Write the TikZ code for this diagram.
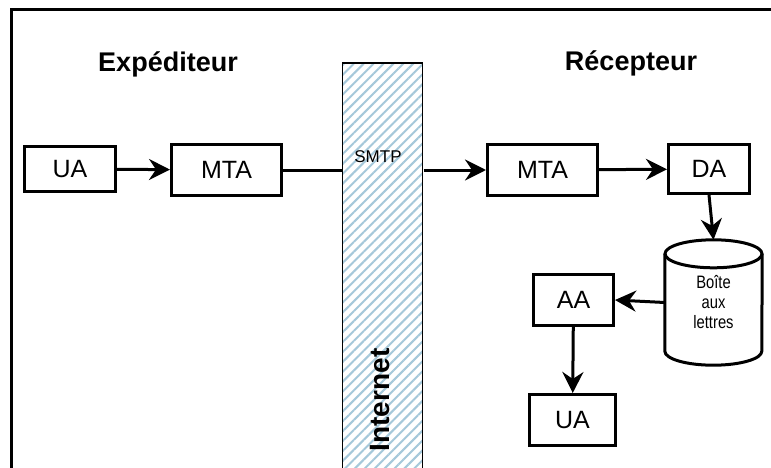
\documentclass[tikz,border=0pt]{standalone}
\usepackage{fontspec}
\setmainfont{Liberation Sans}
\newfontfamily\narrowfont[FakeStretch=0.82]{Liberation Sans}
\usetikzlibrary{arrows.meta,patterns.meta}
\definecolor{hatch}{RGB}{165,200,218}
\tikzset{
  centered/.style = { align=center, anchor=center },
     agent/.style = { draw, line width=3pt, font=\fontsize{25}{27}\selectfont,
                      centered, inner sep=0pt },
     title/.style = { font=\bfseries\fontsize{27}{30}\selectfont, anchor=base },
     arrow/.style = { line width=3pt, -{Stealth[length=21pt,width=21pt,inset=7pt]} },
      link/.style = { line width=3pt },
}
\newcommand*{\bal}{Boîte\\aux\\lettres}

\begin{document}
\begin{tikzpicture}[x=1pt,y=1pt]
  \useasboundingbox (0,0) rectangle (771,467);
  \fill[white] (0,0) rectangle (771,467);
  % frame
  \draw[line width=3pt] (11,-5) -- (11,457) -- (776,457);

  % internet
  \node[draw, line width=1.5pt, minimum width=80, minimum height=410,
        pattern={Lines[angle=45,distance=7pt,line width=2pt]},
        pattern color=hatch] (net) at (382.5,199) {};
  \node[font=\fontsize{17}{19}\selectfont] (smtp) at (378,310) {SMTP};
  \node[font=\bfseries\fontsize{28}{30}\selectfont, rotate=90] (inet) at (380,67) {Internet};

  % titles
  \node[title] (exp) at (168,395) {Expéditeur};
  \node[title] (rec) at (631,396) {Récepteur};

  % sender
  \node[agent, minimum width=91, minimum height=45] (ua1)  at (70,298)    {UA};
  \node[agent, minimum width=110, minimum height=51] (mta1) at (226.5,297) {MTA};

  % receiver
  \node[agent, minimum width=110, minimum height=51] (mta2) at (542.5,297) {MTA};
  \node[agent, minimum width=81, minimum height=49]  (da)   at (709,298)   {DA};
  \node[minimum width=97, minimum height=125, inner sep=0pt, centered,
        font=\narrowfont\fontsize{18}{20}\selectfont] (box) at (713.5,164.5) {\bal};
  \draw[line width=3pt]
    ([yshift=-14]box.north west) -- ([yshift=14]box.south west)
    arc[start angle=180, end angle=360, x radius=48.5, y radius=14]
    -- ([yshift=-14]box.north east);
  \draw[line width=3pt] ([yshift=-14]box.north) ellipse[x radius=48.5, y radius=14];
  \node[agent, minimum width=80, minimum height=51] (aa)  at (573.5,167) {AA};
  \node[agent, minimum width=86, minimum height=51] (ua2) at (572.5,47)  {UA};

  % connectors
  \draw [arrow] (ua1) -- (mta1);
  \draw [link] (mta1) -- (mta1 -| net.west);
  \draw [arrow] (net.east |- mta2) -- (mta2);
  \draw [arrow] (mta2) -- (da);
  \draw [arrow] (da.south) -- (box.north);
  \draw [arrow] (box.west) -- (aa.east);
  \draw [arrow] (aa) -- (ua2);

\end{tikzpicture}
\end{document}
